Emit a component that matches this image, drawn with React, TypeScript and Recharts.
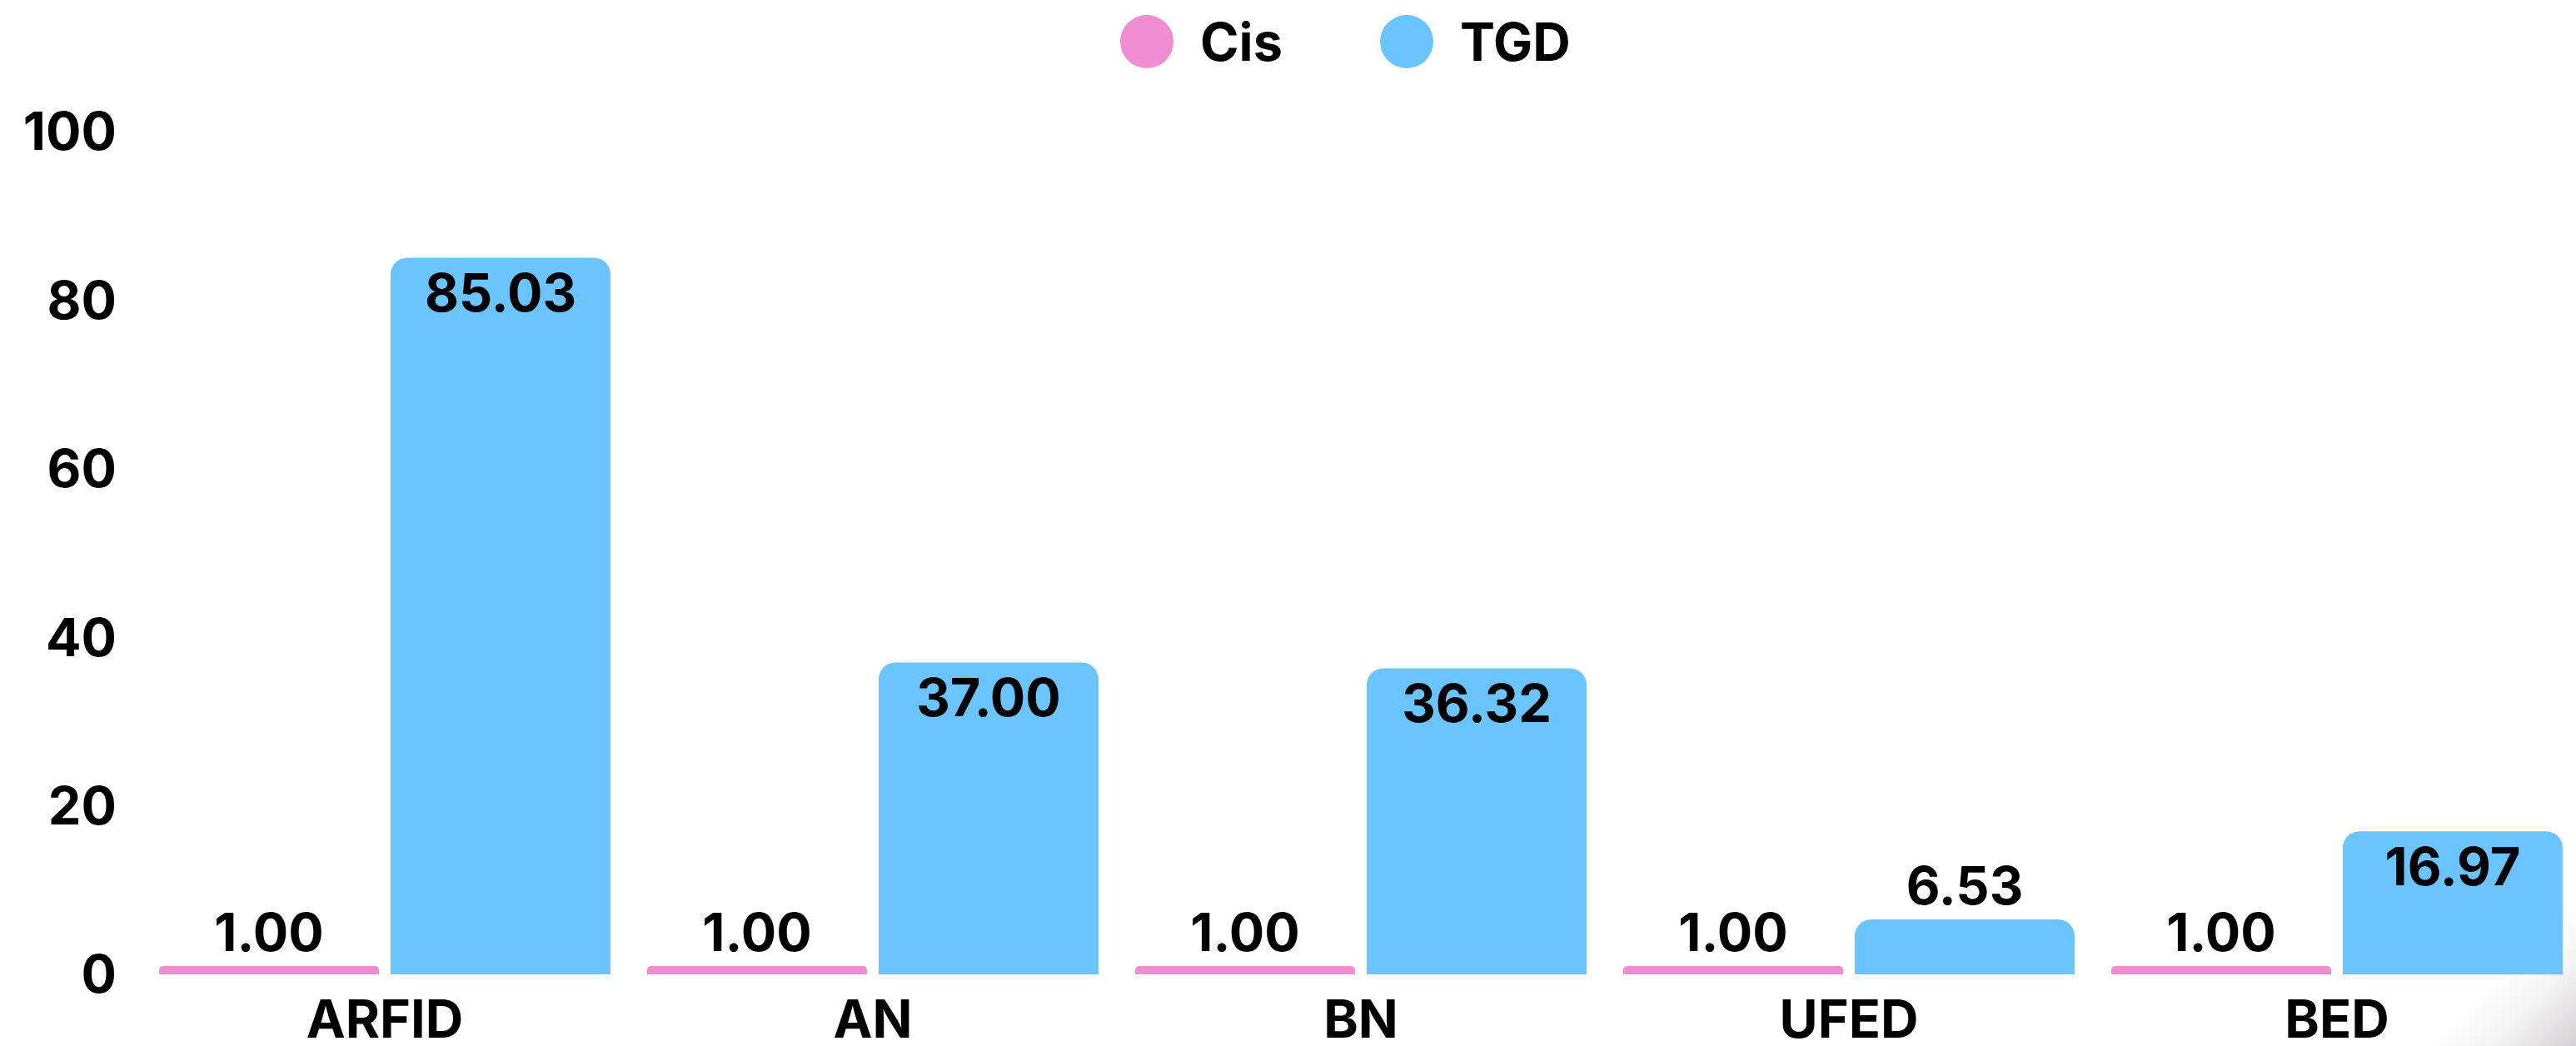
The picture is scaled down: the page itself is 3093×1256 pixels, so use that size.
import React from 'react';
import { BarChart, Bar, XAxis, YAxis, Legend, LabelList } from 'recharts';

const categories = ['ARFID', 'AN', 'BN', 'UFED', 'BED'];
const cisValues = [1.0, 1.0, 1.0, 1.0, 1.0];
const tgdValues = [85.03, 37.0, 36.32, 6.53, 16.97];
const yTicks = [0, 20, 40, 60, 80, 100];

const CIS_COLOR = '#F08DCF';
const TGD_COLOR = '#6BC4FE';
const FONT = 'Inter, "DejaVu Sans", sans-serif';
const FS = 63;

const data = categories.map((c, i) => ({ name: c, Cis: cisValues[i], TGD: tgdValues[i] }));

const ValueLabel = (props: any) => {
  const { x, y, width, height, value } = props;
  const cap = FS * 0.727;
  const inside = height > 120;
  const ty = inside ? y + 19 + cap : y - 18;
  return (
    <text
      x={x + width / 2}
      y={ty}
      textAnchor="middle"
      fontFamily={FONT}
      fontWeight={700}
      fontSize={FS}
      fill="#000"
    >
      {Number(value).toFixed(2)}
    </text>
  );
};

const LegendContent = (props: any) => {
  const { payload } = props;
  return (
    <div style={{ display: 'flex', alignItems: 'center', height: 82, paddingLeft: 1345 }}>
      {(payload || []).map((p: any, i: number) => (
        <div key={i} style={{ display: 'flex', alignItems: 'center', marginRight: 117 }}>
          <svg width={64} height={64} style={{ display: 'block' }}>
            <circle cx={32} cy={32} r={32} fill={p.color} />
          </svg>
          <span
            style={{
              marginLeft: 32,
              fontFamily: FONT,
              fontWeight: 700,
              fontSize: FS,
              color: '#000',
              lineHeight: '64px',
            }}
          >
            {p.value}
          </span>
        </div>
      ))}
    </div>
  );
};

export default function App() {
  return (
    <div
      style={{
        position: 'absolute',
        left: 0,
        top: 0,
        width: 3093,
        height: 1256,
        overflow: 'hidden',
        background: '#fff',
      }}
    >
      <div
        style={{
          position: 'absolute',
          right: 0,
          bottom: 0,
          width: 200,
          height: 170,
          background:
            'linear-gradient(135deg, rgba(255,255,255,0) 52%, rgba(242,242,242,1) 74%, rgba(212,208,211,1) 100%)',
        }}
      />
      <div style={{ position: 'absolute', left: 0, top: 0 }}>
        <BarChart
          width={3099}
          height={1256}
          data={data}
          margin={{ top: 76, right: 0, bottom: 0, left: 0 }}
          barCategoryGap={22}
          barGap={14}
        >
          <Legend
            verticalAlign="top"
            content={<LegendContent />}
            wrapperStyle={{ top: 9, left: 0, width: 3093, height: 82 }}
          />
          <XAxis
            dataKey="name"
            axisLine={false}
            tickLine={false}
            tickSize={0}
            tickMargin={31}
            height={86}
            interval={0}
            tick={{ fontFamily: FONT, fontWeight: 700, fontSize: FS, fill: '#000' }}
          />
          <YAxis
            domain={[0, 100]}
            ticks={yTicks}
            axisLine={false}
            tickLine={false}
            tickSize={0}
            tickMargin={29}
            width={169}
            tick={{ fontFamily: FONT, fontWeight: 700, fontSize: FS, fill: '#000' }}
          />
          <Bar dataKey="Cis" fill={CIS_COLOR} radius={[20, 20, 0, 0]} isAnimationActive={false}>
            <LabelList dataKey="Cis" content={<ValueLabel />} />
          </Bar>
          <Bar dataKey="TGD" fill={TGD_COLOR} radius={[20, 20, 0, 0]} isAnimationActive={false}>
            <LabelList dataKey="TGD" content={<ValueLabel />} />
          </Bar>
        </BarChart>
      </div>
    </div>
  );
}
